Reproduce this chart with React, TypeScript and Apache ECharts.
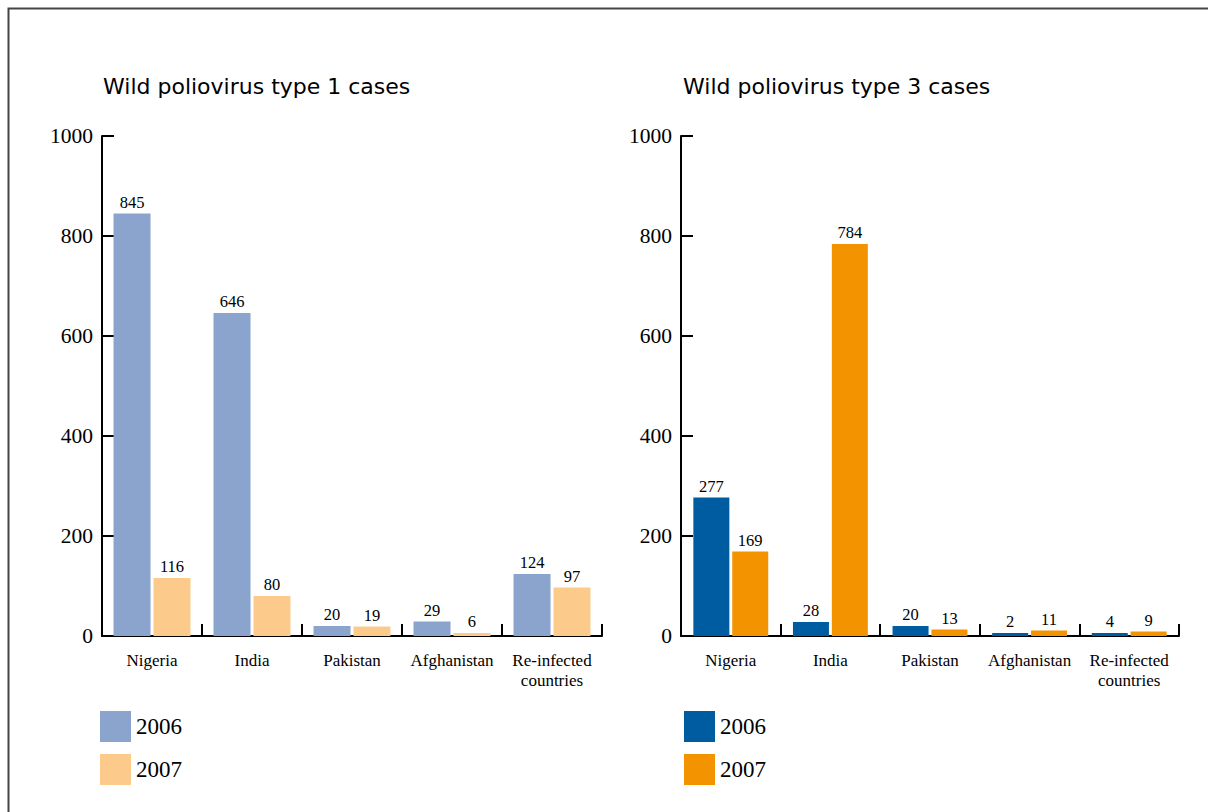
import React, { useEffect, useRef } from "react";
import * as echarts from "echarts";

const categories = ["Nigeria", "India", "Pakistan", "Afghanistan", "Re-infected\ncountries"];
const type1_2006 = [845, 646, 20, 29, 124];
const type1_2007 = [116, 80, 19, 6, 97];
const type3_2006 = [277, 28, 20, 2, 4];
const type3_2007 = [169, 784, 13, 11, 9];
const titles = ["Wild poliovirus type 1 cases", "Wild poliovirus type 3 cases"];
const years = ["2006", "2007"];

const SERIF = "'Liberation Serif', 'DejaVu Serif', serif";
const TITLE_FONT = "'DejaVu Sans', 'Noto Sans', sans-serif";

export default function App() {
  const ref = useRef<HTMLDivElement>(null);
  useEffect(() => {
    if (!ref.current) return;
    const chart = echarts.init(ref.current, undefined, { renderer: "svg" });
    const yAxisBase = (gridIndex: number) => ({
      type: "value",
      gridIndex,
      min: 0,
      max: 1000,
      interval: 200,
      axisLine: { show: true, lineStyle: { color: "#000", width: 2 } },
      axisTick: { show: true, inside: true, length: 12, lineStyle: { color: "#000", width: 2 } },
      axisLabel: {
        color: "#000",
        fontFamily: SERIF,
        fontSize: 21.5,
        margin: 9,
        formatter: (v: number) => String(v),
      },
      splitLine: { show: false },
    });
    const xAxisBase = (gridIndex: number) => ({
      type: "category",
      gridIndex,
      data: categories,
      axisLine: { show: true, lineStyle: { color: "#000", width: 2 } },
      axisTick: { show: true, inside: true, length: 12, lineStyle: { color: "#000", width: 2 } },
      axisLabel: { color: "#000", fontFamily: SERIF, fontSize: 17, margin: 14, lineHeight: 20, interval: 0 },
    });
    const label = {
      show: true,
      position: "top",
      distance: 3,
      color: "#000",
      fontFamily: SERIF,
      fontSize: 16.5,
    };
    const bar = (name: string, data: number[], color: string, idx: number, width: number) => ({
      type: "bar",
      name,
      data,
      xAxisIndex: idx,
      yAxisIndex: idx,
      barWidth: width,
      barGap: "8%",
      barMinHeight: 3,
      itemStyle: { color },
      label,
    });
    const legendBase = (left: number, names: string[]) => ({
      left,
      top: 711,
      padding: 0,
      orient: "vertical",
      itemWidth: 31,
      itemHeight: 31,
      itemGap: 12,
      icon: "rect",
      data: names,
      selectedMode: false,
      formatter: (n: string) => n.slice(-4),
      textStyle: { color: "#000", fontFamily: SERIF, fontSize: 23 },
    });
    chart.setOption({
      animation: false,
      backgroundColor: "#fff",
      grid: [
        { left: 102, top: 136, width: 500, height: 500 },
        { left: 681, top: 136, width: 498, height: 500 },
      ],
      xAxis: [xAxisBase(0), xAxisBase(1)],
      yAxis: [yAxisBase(0), yAxisBase(1)],
      legend: [
        legendBase(100, ["T1 " + years[0], "T1 " + years[1]]),
        legendBase(684, ["T3 " + years[0], "T3 " + years[1]]),
      ],
      series: [
        bar("T1 " + years[0], type1_2006, "#8aa4ce", 0, 37),
        bar("T1 " + years[1], type1_2007, "#fccb8b", 0, 37),
        bar("T3 " + years[0], type3_2006, "#005ca1", 1, 36),
        bar("T3 " + years[1], type3_2007, "#f39300", 1, 36),
      ],
      graphic: [
        {
          type: "rect",
          shape: { x: 8.5, y: 8.5, width: 1400, height: 1000 },
          style: { fill: "none", stroke: "#444", lineWidth: 2 },
          silent: true,
        },
        {
          type: "text",
          x: 103,
          y: 86,
          style: { text: titles[0], fontFamily: TITLE_FONT, fontSize: 22, fill: "#000", textVerticalAlign: "middle" },
        },
        {
          type: "text",
          x: 683,
          y: 86,
          style: { text: titles[1], fontFamily: TITLE_FONT, fontSize: 22, fill: "#000", textVerticalAlign: "middle" },
        },
      ],
    });
    return () => chart.dispose();
  }, []);
  return <div ref={ref} style={{ position: "absolute", left: 0, top: 0, width: 1208, height: 812 }} />;
}
